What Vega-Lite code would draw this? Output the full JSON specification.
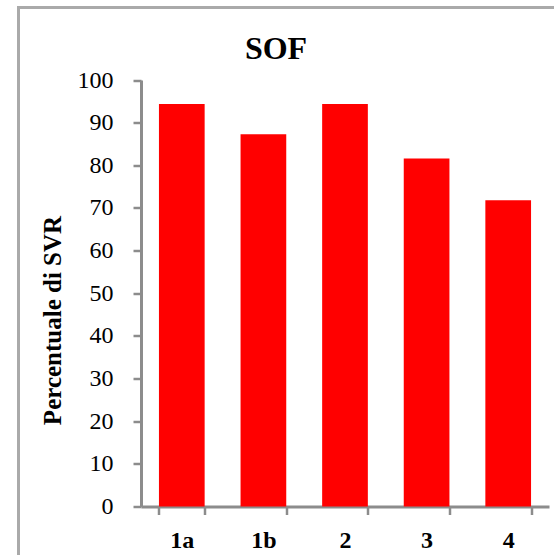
{
  "$schema": "https://vega.github.io/schema/vega-lite/v6.json",
  "width": 538,
  "height": 550,
  "autosize": {"type": "none"},
  "padding": {"left": 18.5, "top": 7.5, "right": 0, "bottom": 0},
  "background": "white",
  "title": {
    "text": "SOF",
    "font": "Liberation Serif",
    "fontSize": 32,
    "fontWeight": "bold",
    "color": "black",
    "anchor": "middle",
    "frame": "group",
    "baseline": "alphabetic",
    "offset": 0,
    "dx": -11.5,
    "dy": 83
  },
  "data": {
    "values": [
      {"genotipo": "1a", "svr": 94.4},
      {"genotipo": "1b", "svr": 87.3},
      {"genotipo": "2", "svr": 94.4},
      {"genotipo": "3", "svr": 81.6},
      {"genotipo": "4", "svr": 71.8}
    ]
  },
  "mark": {"type": "bar", "color": "#ff0000"},
  "encoding": {
    "x": {
      "field": "genotipo",
      "type": "nominal",
      "sort": null,
      "scale": {"range": [122.5, 530.5], "paddingInner": 0.44, "paddingOuter": 0.22},
      "axis": {
        "orient": "bottom",
        "offset": -51,
        "title": null,
        "labelAngle": 0,
        "labelFont": "Liberation Serif",
        "labelFontSize": 24,
        "labelFontWeight": "bold",
        "labelColor": "black",
        "labelPadding": 14,
        "domainColor": "#8c8c8c",
        "domainWidth": 3,
        "tickColor": "#8c8c8c",
        "tickWidth": 2.5,
        "tickSize": 8,
        "tickBand": "extent",
        "grid": false
      }
    },
    "y": {
      "field": "svr",
      "type": "quantitative",
      "scale": {"domain": [0, 100], "range": [499, 72.5], "nice": false},
      "axis": {
        "orient": "left",
        "offset": -122.5,
        "values": [0, 10, 20, 30, 40, 50, 60, 70, 80, 90, 100],
        "title": "Percentuale di SVR",
        "titleFont": "Liberation Serif",
        "titleFontSize": 25,
        "titleFontWeight": "bold",
        "titleColor": "black",
        "titleAngle": -90,
        "titleX": -81,
        "titleY": 312.5,
        "titleAlign": "center",
        "titleBaseline": "alphabetic",
        "labelFont": "Liberation Serif",
        "labelFontSize": 24,
        "labelColor": "black",
        "labelPadding": 20,
        "domainColor": "#8c8c8c",
        "domainWidth": 3,
        "tickColor": "#8c8c8c",
        "tickWidth": 2.5,
        "tickSize": 8,
        "grid": false
      }
    }
  },
  "config": {
    "view": {"stroke": "#aaaaaa", "strokeWidth": 3}
  }
}
